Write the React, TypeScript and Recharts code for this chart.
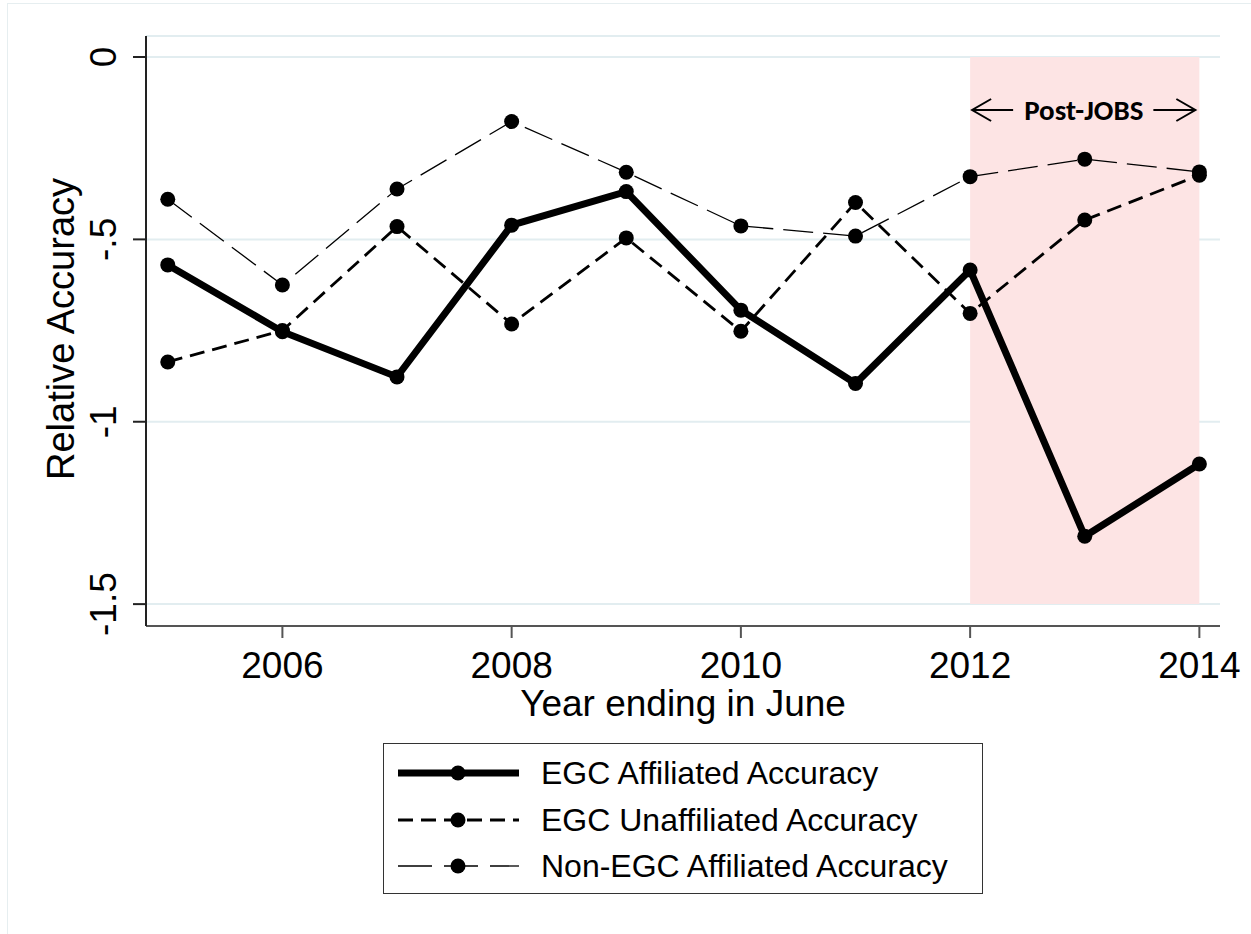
import React from "react";
import {
  LineChart,
  Line,
  XAxis,
  YAxis,
  CartesianGrid,
  ReferenceArea,
  Legend,
  Label,
} from "recharts";

// values
const years = [2005, 2006, 2007, 2008, 2009, 2010, 2011, 2012, 2013, 2014];
const egcAffiliated = [-0.57, -0.753, -0.877, -0.461, -0.369, -0.694, -0.895, -0.584, -1.314, -1.116];
const egcUnaffiliated = [-0.836, -0.75, -0.465, -0.732, -0.496, -0.752, -0.399, -0.703, -0.447, -0.324];
const nonEgcAffiliated = [-0.39, -0.625, -0.362, -0.177, -0.316, -0.463, -0.491, -0.328, -0.28, -0.315];

const xTicks = [2006, 2008, 2010, 2012, 2014];
const yTicks = [0, -0.5, -1, -1.5];
const yTickLabels = ["0", "-.5", "-1", "-1.5"];

const seriesNames = [
  "EGC Affiliated Accuracy",
  "EGC Unaffiliated Accuracy",
  "Non-EGC Affiliated Accuracy",
];

const FONT = "Arial, 'Liberation Sans', sans-serif";

const data = years.map((year, i) => ({
  year,
  egcAff: egcAffiliated[i],
  egcUnaff: egcUnaffiliated[i],
  nonEgc: nonEgcAffiliated[i],
}));

const styles = [
  { key: "egcAff", width: 7, dash: undefined as string | undefined },
  { key: "egcUnaff", width: 2.8, dash: "15 8" },
  { key: "nonEgc", width: 1.3, dash: "34 12" },
];

const YTick = (props: any) => {
  const { x, y, payload } = props;
  const idx = yTicks.indexOf(payload.value);
  return (
    <text
      x={x}
      y={y}
      transform={`rotate(-90 ${x} ${y})`}
      textAnchor="middle"
      fontSize={37}
      fontFamily={FONT}
      fill="#000"
    >
      {idx >= 0 ? yTickLabels[idx] : payload.value}
    </text>
  );
};

const PostJobsLabel = (props: any) => {
  const { viewBox } = props;
  const left = viewBox.x + 2;
  const right = viewBox.x + viewBox.width - 4;
  const cy = viewBox.y + 53;
  const cx = (left + right) / 2;
  return (
    <g stroke="#000" strokeWidth={2} fill="none">
      <line x1={left} y1={cy} x2={left + 41} y2={cy} />
      <polyline points={`${left + 19},${cy - 11} ${left},${cy} ${left + 19},${cy + 11}`} />
      <line x1={right - 42} y1={cy} x2={right} y2={cy} />
      <polyline points={`${right - 19},${cy - 11} ${right},${cy} ${right - 19},${cy + 11}`} />
      <text
        x={cx}
        y={cy + 10}
        textAnchor="middle"
        fontSize={29}
        fontWeight="bold"
        fontFamily="Carlito, Lato, 'Open Sans', sans-serif"
        fill="#000"
        stroke="none"
      >
        Post-JOBS
      </text>
    </g>
  );
};

const LegendBox = () => (
  <div
    style={{
      boxSizing: "border-box",
      width: 600,
      height: 151,
      border: "1.5px solid #333",
      background: "#fff",
      paddingTop: 6,
      fontFamily: FONT,
      fontSize: 32,
      color: "#000",
    }}
  >
    {styles.map((s, i) => (
      <div key={s.key} style={{ display: "flex", alignItems: "center", height: 46.5 }}>
        <svg width={157} height={30} style={{ flexShrink: 0 }}>
          <line
            x1={14}
            y1={15}
            x2={135}
            y2={15}
            stroke="#000"
            strokeWidth={s.width}
            strokeDasharray={s.dash}
          />
          <circle cx={74} cy={15} r={7.5} fill="#000" />
        </svg>
        <span style={{ whiteSpace: "nowrap", lineHeight: "32px" }}>{seriesNames[i]}</span>
      </div>
    ))}
  </div>
);

export default function App() {
  return (
    <div style={{ position: "absolute", left: 0, top: 0, width: 1251, height: 934, background: "#fff" }}>
      <div
        style={{
          position: "absolute",
          left: 7,
          top: 3,
          width: 1244,
          height: 931,
          borderTop: "1.5px solid #e6eef0",
          borderLeft: "1.5px solid #e6eef0",
        }}
      />
      <LineChart
        width={1251}
        height={934}
        data={data}
        margin={{ top: 36, right: 31, left: 0, bottom: 248 }}
      >
        <CartesianGrid vertical={false} stroke="#e2edf0" strokeWidth={2} />
        <XAxis
          dataKey="year"
          type="number"
          domain={[2004.81, 2014.18]}
          ticks={xTicks}
          allowDataOverflow
          height={60}
          tickSize={12}
          tickMargin={14}
          stroke="#555"
          strokeWidth={2}
          tick={{ fontSize: 37, fontFamily: FONT, fill: "#000" }}
        >
          <Label
            content={(p: any) => (
              <text
                x={p.viewBox.x + p.viewBox.width / 2}
                y={716}
                textAnchor="middle"
                fontSize={37}
                fontFamily={FONT}
                fill="#000"
              >
                Year ending in June
              </text>
            )}
          />
        </XAxis>
        <YAxis
          type="number"
          domain={[-1.56, 0.0576]}
          ticks={yTicks}
          allowDataOverflow
          width={146}
          tickSize={13}
          tickMargin={17}
          stroke="#222"
          strokeWidth={2}
          tick={<YTick />}
        >
          <Label
            content={(p: any) => {
              const cy = p.viewBox.y + p.viewBox.height / 2 - 2;
              return (
                <text
                  x={74}
                  y={cy}
                  transform={`rotate(-90 74 ${cy})`}
                  textAnchor="middle"
                  fontSize={38}
                  fontFamily={FONT}
                  fill="#000"
                >
                  Relative Accuracy
                </text>
              );
            }}
          />
        </YAxis>
        <ReferenceArea
          x1={2012}
          x2={2014}
          y1={-1.5}
          y2={0}
          fill="#fde4e4"
          fillOpacity={1}
          stroke="none"
          label={<PostJobsLabel />}
        />
        <Line
          dataKey="nonEgc"
          name={seriesNames[2]}
          stroke="#000"
          strokeWidth={1.3}
          strokeDasharray="30 10"
          dot={{ r: 7.5, fill: "#000", strokeWidth: 0 }}
          isAnimationActive={false}
        />
        <Line
          dataKey="egcUnaff"
          name={seriesNames[1]}
          stroke="#000"
          strokeWidth={2.8}
          strokeDasharray="15 8"
          dot={{ r: 7.5, fill: "#000", strokeWidth: 0 }}
          isAnimationActive={false}
        />
        <Line
          dataKey="egcAff"
          name={seriesNames[0]}
          stroke="#000"
          strokeWidth={7}
          dot={{ r: 7.5, fill: "#000", strokeWidth: 0 }}
          isAnimationActive={false}
        />
        <Legend
          layout="vertical"
          align="center"
          verticalAlign="middle"
          content={<LegendBox />}
          wrapperStyle={{ left: 383, top: 743, width: 600, height: 151 }}
        />
      </LineChart>
    </div>
  );
}
